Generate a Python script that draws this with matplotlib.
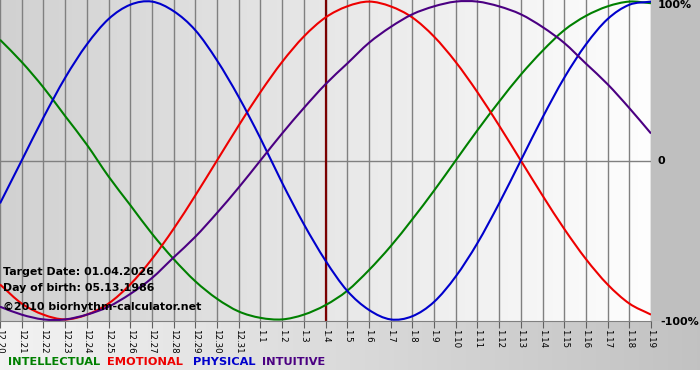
import numpy as np
import matplotlib
matplotlib.use("Agg")
import matplotlib.pyplot as plt
from matplotlib.path import Path
from matplotlib.patches import PathPatch

# day labels (12.20 .. 1.19)
days = ["12.20", "12.21", "12.22", "12.23", "12.24", "12.25", "12.26", "12.27",
        "12.28", "12.29", "12.30", "12.31", "1.1", "1.2", "1.3", "1.4", "1.5",
        "1.6", "1.7", "1.8", "1.9", "1.10", "1.11", "1.12", "1.13", "1.14",
        "1.15", "1.16", "1.17", "1.18", "1.19"]
target_day = "1.4"

# values (fraction of 100%)
physical = [-0.27, 0.00, 0.27, 0.52, 0.73, 0.89, 0.98, 1.00, 0.94, 0.82, 0.63,
            0.40, 0.14, -0.14, -0.40, -0.63, -0.82, -0.94, -1.00, -0.98, -0.89,
            -0.73, -0.52, -0.27, 0.00, 0.27, 0.52, 0.73, 0.89, 0.98, 1.00]
emotional = [-0.78, -0.90, -0.97, -1.00, -0.97, -0.90, -0.78, -0.62, -0.43, -0.22,
             0.00, 0.22, 0.43, 0.62, 0.78, 0.90, 0.97, 1.00, 0.97, 0.90, 0.78,
             0.62, 0.43, 0.22, 0.00, -0.22, -0.43, -0.62, -0.78, -0.90, -0.97]
intellectual = [0.76, 0.62, 0.46, 0.28, 0.10, -0.10, -0.28, -0.46, -0.62, -0.76,
                -0.87, -0.95, -0.99, -1.00, -0.97, -0.91, -0.82, -0.69, -0.54,
                -0.37, -0.19, 0.00, 0.19, 0.37, 0.54, 0.69, 0.82, 0.91, 0.97,
                1.00, 0.99]
intuitive = [-0.92, -0.97, -1.00, -1.00, -0.97, -0.92, -0.84, -0.74, -0.61, -0.48,
             -0.33, -0.17, 0.00, 0.17, 0.33, 0.48, 0.61, 0.74, 0.84, 0.92, 0.97,
             1.00, 1.00, 0.97, 0.92, 0.84, 0.74, 0.61, 0.48, 0.33, 0.17]

series = [("INTELLECTUAL", intellectual, "#008000"),
          ("EMOTIONAL", emotional, "#ee0000"),
          ("PHYSICAL", physical, "#0000cc"),
          ("INTUITIVE", intuitive, "#4b0082")]


def smooth_path(xs, ys):
    # catmull-rom through the read points, drawn as cubic bezier segments
    pts = np.column_stack([xs, ys]).astype(float)
    ext = np.vstack([2 * pts[0] - pts[1], pts, 2 * pts[-1] - pts[-2]])
    verts = [pts[0]]
    codes = [Path.MOVETO]
    for i in range(1, len(ext) - 2):
        p0, p1, p2, p3 = ext[i - 1], ext[i], ext[i + 1], ext[i + 2]
        verts += [p1 + (p2 - p0) / 6, p2 - (p3 - p1) / 6, p2]
        codes += [Path.CURVE4] * 3
    return Path(verts, codes)


W, H = 700, 380
fig = plt.figure(figsize=(W / 100, H / 100), dpi=100)
fig.patch.set_facecolor("white")

# background: gray right margin, gradient strip under the plot
bg = np.ones((H, W, 3))
bg[:321, 651:] = 0.75
ramp = np.linspace(0.95, 0.76, W)
bg[321:370, :] = ramp[None, :, None]
bax = fig.add_axes([0, 0, 1, 1], zorder=-5)
bax.imshow(bg, aspect="auto", extent=[0, W, H, 0])
bax.set_xlim(0, W)
bax.set_ylim(H, 0)
bax.axis("off")

ax = fig.add_axes([0, 59 / H, 651 / W, 321 / H])
x = np.arange(len(days))
ax.set_xlim(0, len(days) - 1)
ax.set_ylim(-1.01, 1.01)

grad = np.linspace(0.82, 0.995, 200)
ax.imshow(np.dstack([np.tile(grad, (2, 1))] * 3), aspect="auto",
          extent=[0, len(days) - 1, -1.01, 1.01], zorder=0)

for xi in x:
    ax.axvline(xi, color="#808080", lw=1.0, zorder=1)
ax.axhline(0, color="#808080", lw=1.0, zorder=1)
ax.axvline(days.index(target_day), color="#7a0000", lw=1.6, zorder=2)

for name, vals, col in series:
    ax.add_patch(PathPatch(smooth_path(x, vals), facecolor="none",
                           edgecolor=col, lw=1.5, zorder=3))

for s in ["top", "left", "right"]:
    ax.spines[s].set_visible(False)
ax.spines["bottom"].set_color("#808080")
ax.set_yticks([])
ax.set_xticks(x)
ax.set_xticklabels(days, rotation=270, fontsize=6.2)
ax.tick_params(axis="x", length=5, width=0.8, color="#606060", pad=1)

# right side percentages
fig.text(658 / W, 1 - 5 / H, "100%", fontsize=8, fontweight="bold",
         va="center", ha="left")
fig.text(658 / W, 1 - 161 / H, "0", fontsize=8, fontweight="bold",
         va="center", ha="left")
fig.text(660 / W, 1 - 322 / H, "-100%", fontsize=8, fontweight="bold",
         va="center", ha="left")

# info text
info = ["Target Date: 01.04.2026", "Day of birth: 05.13.1986",
        "\u00a92010 biorhythm-calculator.net"]
for txt, yb in zip(info, [275, 291, 310]):
    fig.text(3 / W, 1 - yb / H, txt, fontsize=7.9, fontweight="bold",
             va="baseline", ha="left", zorder=10)

# legend words
for (name, vals, col), xl in zip(series, [8, 107, 193, 262]):
    fig.text(xl / W, 1 - 365 / H, name, fontsize=8.2, fontweight="bold",
             color=col, va="baseline", ha="left")

fig.savefig("out.png", dpi=100)
